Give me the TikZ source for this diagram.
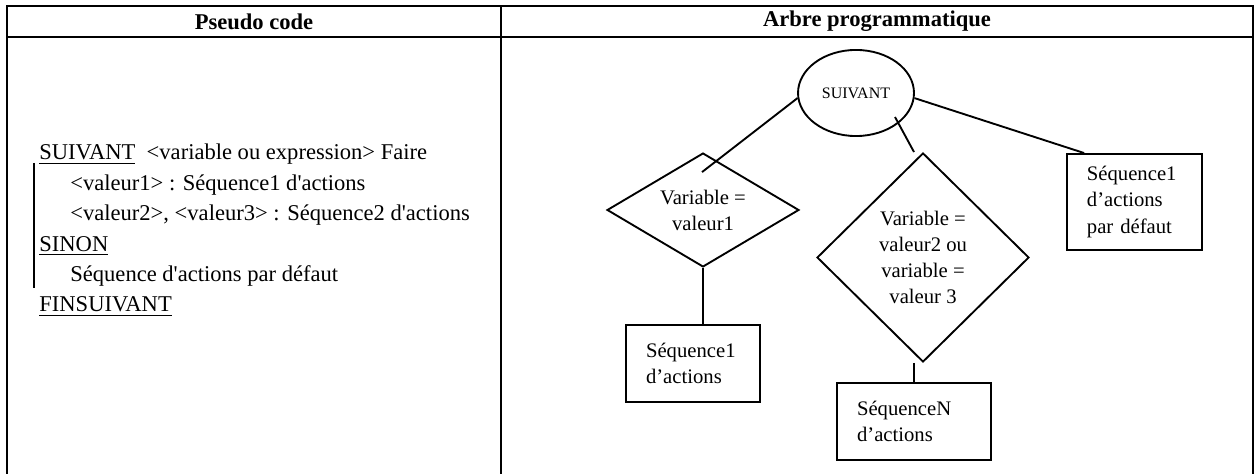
\documentclass[tikz,border=0pt]{standalone}
\usepackage{fontspec}
\setmainfont{Liberation Serif}
\usetikzlibrary{shapes.geometric,calc}

\begin{document}
\begin{tikzpicture}[
  x=0.532pt,y=-0.532pt,
  grid/.style={draw=black,line width=1.3pt},
  link/.style={draw=black,line width=1pt},
  bar/.style={draw=black,line width=.8pt},
  headtext/.style={font=\fontsize{12}{14}\selectfont\bfseries,inner sep=0pt},
  codeline/.style={anchor=base west,inner sep=0pt,font=\fontsize{12}{14}\selectfont},
  root/.style={
    ellipse,draw=black,line width=1pt,inner sep=0pt,
    minimum width=61.7pt,minimum height=45.8pt,font=\fontsize{8.5}{10}\selectfont
  },
  choice/.style={
    diamond,draw=black,line width=1pt,inner sep=0pt,align=center,
    font=\fontsize{11}{13.9}\selectfont
  },
  action/.style={
    rectangle,draw=black,line width=1pt,inner xsep=10.6pt,inner ysep=0pt,
    align=left,font=\fontsize{11}{13.9}\selectfont
  }
]
  \useasboundingbox (0,0) rectangle (1260,474);

  % table
  \draw[grid] (7,474) -- (7,6) -- (1253,6) -- (1253,474);
  \draw[grid] (7,37) -- (1253,37);
  \draw[grid] (501,6) -- (501,474);

  \node[headtext] (hcode) at (254,21.5) {Pseudo code};
  \node[headtext] (harbre) at (877,21.5) {Arbre programmatique};

  % pseudo code
  \node[codeline] (l1) at (39,160)
    {\underline{SUIVANT}\ \ <variable ou expression> Faire};
  \node[codeline] (l2) at (70,190.4)
    {<valeur1> : Séquence1 d\textquotesingle actions};
  \node[codeline] (l3) at (70,220.8)
    {<valeur2>, <valeur3> : Séquence2 d\textquotesingle actions};
  \node[codeline] (l4) at (39,251.2) {\underline{SINON}};
  \node[codeline] (l5) at (70,281.6)
    {Séquence d\textquotesingle actions par défaut};
  \node[codeline] (l6) at (39,312) {\underline{FINSUIVANT}};
  \draw[bar] (34,163) -- (34,288);

  % arbre
  \node[root] (suivant) at (856,93) {SUIVANT};
  \node[choice,aspect=1.7,minimum width=102.1pt,minimum height=60.6pt]
    (cas1) at (703,210) {Variable =\\valeur1};
  \node[choice,minimum width=112.8pt,minimum height=111.2pt]
    (cas2) at (923,257.5) {Variable =\\valeur2 ou\\variable =\\valeur 3};
  \node[action,minimum width=71.3pt,minimum height=41pt,text width=50pt]
    (seq1) at (693,363.5) {Séquence1\\d’actions};
  \node[action,minimum width=81.9pt,minimum height=41pt,text width=60.6pt]
    (seqN) at (914,421.5) {SéquenceN\\d’actions};
  \node[action,minimum width=71.8pt,minimum height=51.1pt,text width=50.6pt]
    (defaut) at (1134.5,202) {Séquence1\\d’actions\\par défaut};

  \draw[link] (suivant.185) -- ($(cas1.north)+(-1,20)$);
  \draw[link] ($(suivant.center)+(39,24)$) -- ($(cas2.north)+(-9,0)$);
  \draw[link] (suivant.355) -- ($(defaut.north west)+(18,0)$);
  \draw[link] (cas1.south) -- (cas1.south |- seq1.north);
  \draw[link] ($(cas2.south)+(-9,0)$) -- (seqN.north);
\end{tikzpicture}
\end{document}
